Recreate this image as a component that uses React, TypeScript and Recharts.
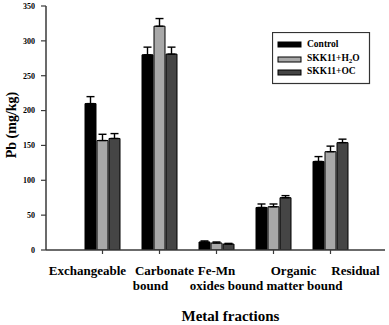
import { BarChart, Bar, XAxis, YAxis, ErrorBar, Legend, Label } from 'recharts'

const categories = ['Exchangeable', 'Carbonate bound', 'Fe-Mn oxides bound', 'Organic matter bound', 'Residual']
const tickLines = [['Exchangeable'], ['Carbonate', 'bound'], ['Fe-Mn', 'oxides bound'], ['Organic', 'matter bound'], ['Residual']]

const control = [210, 280, 11.5, 61, 127]
const controlErr = [10, 11, 1.5, 5, 7]
const skkH2O = [157, 321, 10, 62, 141]
const skkH2OErr = [9, 11, 1.5, 4, 8]
const skkOC = [160, 281, 8.5, 75, 154]
const skkOCErr = [7, 10, 1, 3, 5]

const yTicks = [0, 50, 100, 150, 200, 250, 300, 350]

const data = categories.map((name, i) => ({
  name,
  control: control[i],
  controlErr: [0, controlErr[i]],
  h2o: skkH2O[i],
  h2oErr: [0, skkH2OErr[i]],
  oc: skkOC[i],
  ocErr: [0, skkOCErr[i]],
}))

const FONT = '"Liberation Serif", "Times New Roman", serif'
const AXIS = '#3a3a3a'

// hand-placed label offsets, like the original figure
const line1Dx = [-15, 5, 0, 20, 25]
const line2Dx = [0, -9, 10, 31, 0]

function CategoryTick({ x, y, payload }: any) {
  const lines = tickLines[payload.index] || []
  return (
    <g fontFamily={FONT} fontWeight="bold" fontSize={13} fill="#000">
      <text x={x + line1Dx[payload.index]} y={y + 19} textAnchor="middle">{lines[0]}</text>
      {lines[1] && (
        <text x={x + line2Dx[payload.index]} y={y + 34} textAnchor="middle">{lines[1]}</text>
      )}
    </g>
  )
}

function LegendBox() {
  const items = [
    { fill: '#000000', y: 10 },
    { fill: '#a8a8a8', y: 25 },
    { fill: '#454545', y: 38 },
  ]
  return (
    <svg width={99} height={53} style={{ display: 'block' }}>
      <rect x={0.5} y={0.5} width={97} height={51} fill="#fff" stroke="#333" strokeWidth={1.2} />
      {items.map((it) => (
        <rect key={it.y} x={6} y={it.y} width={23} height={5} fill={it.fill} stroke="#000" strokeWidth={1} />
      ))}
      <g fontFamily={FONT} fontWeight="bold" fontSize={9.5} fill="#000">
        <text x={35} y={15}>Control</text>
        <text x={35} y={29}>
          SKK11+H<tspan fontSize={7} dy={2}>2</tspan><tspan dy={-2}>O</tspan>
        </text>
        <text x={35} y={42}>SKK11+OC</text>
      </g>
    </svg>
  )
}

export default function App() {
  return (
    <div style={{ position: 'absolute', left: 0, top: 0, background: '#fff' }}>
      <BarChart
        width={389}
        height={325}
        data={data}
        margin={{ top: 6, right: 4, left: 0, bottom: 0 }}
        barSize={11}
        barGap={1}
      >
        <XAxis
          dataKey="name"
          height={75}
          padding={{ left: 28, right: 26 }}
          axisLine={{ stroke: AXIS, strokeWidth: 1.5 }}
          tickLine={{ stroke: AXIS, strokeWidth: 1.2 }}
          tickSize={4}
          tick={<CategoryTick />}
          interval={0}
        >
          <Label
            value="Metal fractions"
            position="insideBottom"
            offset={4}
            style={{ fontFamily: FONT, fontWeight: 'bold', fontSize: 15, fill: '#000' }}
            dx={15}
          />
        </XAxis>
        <XAxis xAxisId="top" dataKey="name" orientation="top" height={0} tick={false} tickLine={false} axisLine={{ stroke: AXIS, strokeWidth: 1.5 }} />
        <YAxis
          width={46}
          domain={[0, 350]}
          ticks={yTicks}
          tickSize={5}
          tickMargin={6}
          axisLine={{ stroke: AXIS, strokeWidth: 1.5 }}
          tickLine={{ stroke: AXIS, strokeWidth: 1.2 }}
          tick={{ fontFamily: FONT, fontWeight: 'bold', fontSize: 8, fill: '#000' }}
          allowDataOverflow
        >
          <Label
            value="Pb (mg/kg)"
            angle={-90}
            position="insideLeft"
            offset={11}
            style={{ fontFamily: FONT, fontWeight: 'bold', fontSize: 14, fill: '#000', textAnchor: 'middle' }}
            dy={-3}
          />
        </YAxis>
        <YAxis yAxisId="right" orientation="right" width={0} tick={false} tickLine={false} domain={[0, 350]} axisLine={{ stroke: AXIS, strokeWidth: 1.5 }} />
        <Legend
          content={<LegendBox />}
          layout="horizontal"
          verticalAlign="middle"
          align="center"
          wrapperStyle={{ left: 272, top: 32, width: 99, height: 53 }}
        />
        <Bar dataKey="control" name="Control" fill="#000000" stroke="#000" strokeWidth={1} isAnimationActive={false}>
          <ErrorBar dataKey="controlErr" width={4} stroke="#000" strokeWidth={1.4} direction="y" />
        </Bar>
        <Bar dataKey="h2o" name="SKK11+H2O" fill="#a8a8a8" stroke="#000" strokeWidth={1} isAnimationActive={false}>
          <ErrorBar dataKey="h2oErr" width={4} stroke="#000" strokeWidth={1.4} direction="y" />
        </Bar>
        <Bar dataKey="oc" name="SKK11+OC" fill="#454545" stroke="#000" strokeWidth={1} isAnimationActive={false}>
          <ErrorBar dataKey="ocErr" width={4} stroke="#000" strokeWidth={1.4} direction="y" />
        </Bar>
      </BarChart>
    </div>
  )
}
